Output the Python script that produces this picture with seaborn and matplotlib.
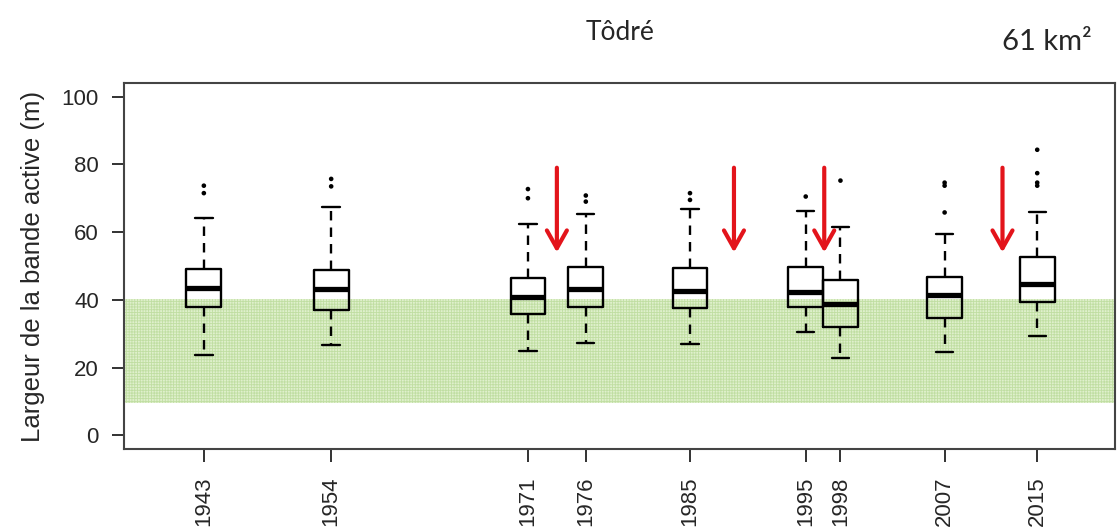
# librerías
import numpy as np
import pandas as pd
import seaborn as sns
import matplotlib.pyplot as plt

# données (Tôdré)
annees = [1943, 1954, 1971, 1976, 1985, 1995, 1998, 2007, 2015]
moust_bas = [23.7, 26.8, 24.9, 27.4, 26.9, 30.4, 22.9, 24.5, 29.4]
q1 = [38.0, 37.0, 35.8, 37.8, 37.5, 38.0, 32.0, 34.7, 39.4]
mediane = [43.6, 43.1, 40.9, 43.3, 42.7, 42.2, 38.8, 41.4, 44.6]
q3 = [49.0, 48.8, 46.4, 49.6, 49.3, 49.8, 45.9, 46.7, 52.6]
moust_haut = [64.3, 67.4, 62.3, 65.4, 66.8, 66.1, 61.6, 59.5, 65.9]

# valeurs atypiques
atyp_annee = [1943, 1943, 1954, 1954, 1971, 1971, 1976, 1976, 1985, 1985,
              1995, 1998, 2007, 2007, 2007, 2015, 2015, 2015, 2015]
atyp_valeur = [71.5, 73.7, 73.5, 75.7, 70.0, 72.7, 69.0, 70.8, 69.5, 71.5,
               70.5, 75.2, 65.8, 73.7, 74.6, 73.7, 74.6, 77.4, 84.3]

# bande de référence et flèches
bande = (9.6, 40.4)
fleches_x = [1973.5, 1988.8, 1996.6, 2012.0]
fleche_haut, fleche_bas = 79, 54

# tableau long : 5 valeurs par année -> quartiles exacts
lignes = []
for i, a in enumerate(annees):
    for v in (moust_bas[i], q1[i], mediane[i], q3[i], moust_haut[i]):
        lignes.append({'annee': a, 'largeur': v})
df = pd.DataFrame(lignes)
df_atyp = pd.DataFrame({'annee': atyp_annee, 'largeur': atyp_valeur})

# style
sns.set_style("white")
plt.rcParams['font.family'] = ['Liberation Sans', 'DejaVu Sans']
plt.rcParams['hatch.linewidth'] = 0.6

fig = plt.figure(figsize=(11.17, 5.31), dpi=100)
ax = fig.add_axes([0.111, 0.1544, 0.887, 0.6893])

# bande verte
ax.axhspan(bande[0], bande[1], facecolor='#dff0cc', edgecolor='#c0dea2',
           hatch='++++++', linewidth=0, zorder=0)

# boîtes
sns.boxplot(
    data=df, x='annee', y='largeur',
    native_scale=True, whis=(0, 100), fill=False, color='black',
    width=1.0, linewidth=1.7, showfliers=False,
    whiskerprops={'linestyle': (0, (4, 3))},
    medianprops={'linewidth': 3.8},
    ax=ax
)

# valeurs atypiques
sns.scatterplot(data=df_atyp, x='annee', y='largeur', color='black',
                s=11, edgecolor='none', ax=ax, zorder=5)

# flèches rouges
for fx in fleches_x:
    ax.annotate('', xy=(fx, fleche_bas), xytext=(fx, fleche_haut),
                arrowprops=dict(arrowstyle='->,head_length=0.8,head_width=0.45',
                                mutation_scale=16,
                                color='#e3141b', lw=3, shrinkA=0, shrinkB=0),
                zorder=6)

# axes
ax.set_xlim(1936.1, 2021.7)
ax.set_ylim(-4, 104)
ax.set_xticks(annees)
ax.set_xticklabels([str(a) for a in annees], rotation=90)
ax.set_yticks([0, 20, 40, 60, 80, 100])
ax.tick_params(axis='both', direction='out', length=9, width=1.3,
               labelsize=16, color='#222222', bottom=True, left=True)
ax.tick_params(axis='x', pad=11)
ax.tick_params(axis='y', pad=9)
for s in ax.spines.values():
    s.set_visible(True)
    s.set_color('#444444')
    s.set_linewidth(1.5)

ax.set_xlabel('')
ax.set_ylabel('Largeur de la bande active (m)', fontsize=18.5, labelpad=12)

# titres
fig.text(0.555, 1 - 33 / 531, 'Tôdré', ha='center', va='center',
         fontsize=19, family=['Lato', 'DejaVu Sans'])
fig.text(0.937, 1 - 42 / 531, '61 km²', ha='center', va='center',
         fontsize=21, family=['Lato', 'DejaVu Sans'])

plt.savefig('out.png', dpi=100)
